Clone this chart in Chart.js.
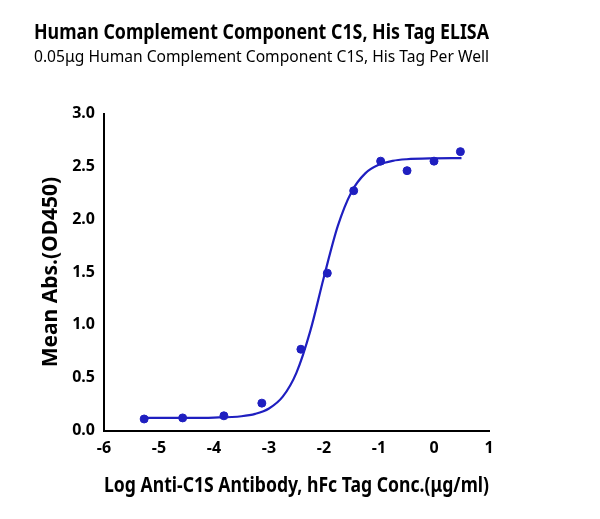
<!DOCTYPE html>
<html><head><meta charset="utf-8">
<script src="https://cdn.jsdelivr.net/npm/chart.js@4.4.0/dist/chart.umd.min.js"></script>
<style>html,body{margin:0;padding:0;background:#fff}#w{width:600px;height:519px}</style>
</head><body><div id="w"><canvas id="c"></canvas></div>
<script>
const pointX=[-5.27,-4.57,-3.82,-3.13,-2.42,-1.94,-1.46,-0.97,-0.49,0.0,0.48];
const pointY=[0.11,0.12,0.14,0.26,0.77,1.49,2.27,2.55,2.46,2.55,2.64];
const curveX=[-5.25,-4.5,-4,-3.5,-3.25,-3,-2.75,-2.5,-2.25,-2,-1.75,-1.5,-1.25,-1,-0.75,-0.5,0,0.5];
const curveY=[0.12,0.12,0.123,0.136,0.158,0.209,0.321,0.549,0.941,1.456,1.935,2.259,2.434,2.516,2.553,2.568,2.577,2.579];
const xTicks=[-6,-5,-4,-3,-2,-1,0,1];
const yTicks=[0,0.5,1,1.5,2,2.5,3];
const F='"Noto Sans", sans-serif';
const blue='#1f1fc0';
new Chart(document.getElementById('c'),{
 data:{datasets:[
  {type:'line',data:curveX.map((x,i)=>({x,y:curveY[i]})),borderColor:blue,borderWidth:2.2,pointRadius:0,cubicInterpolationMode:'monotone'},
  {type:'scatter',data:pointX.map((x,i)=>({x,y:pointY[i]})),backgroundColor:blue,borderColor:blue,pointRadius:4}
 ]},
 options:{responsive:true,maintainAspectRatio:false,animation:false,
  layout:{padding:{left:34,right:111,top:20,bottom:16}},
  plugins:{legend:{display:false},tooltip:{enabled:false},
   title:{display:true,text:'Human Complement Component C1S, His Tag ELISA',color:'#000',font:{family:F,size:21,weight:'bold'},padding:{top:0,bottom:2},align:'center'},
   subtitle:{display:true,text:'0.05μg Human Complement Component C1S, His Tag Per Well',color:'#000',font:{family:F,size:17},padding:{bottom:46}}},
  scales:{
   x:{type:'linear',min:-6,max:1,afterBuildTicks:a=>{a.ticks=xTicks.map(v=>({value:v}))},
    grid:{display:false,drawTicks:true,tickLength:6,tickColor:'#000'},border:{color:'#000',width:2},
    ticks:{color:'#000',font:{family:F,size:16,weight:'bold'},padding:2,maxRotation:0},
    title:{display:true,text:'Log Anti-C1S Antibody, hFc Tag Conc.(μg/ml)',color:'#000',font:{family:F,size:21,weight:'bold'},padding:{top:14}}},
   y:{type:'linear',min:0,max:3,afterBuildTicks:a=>{a.ticks=yTicks.map(v=>({value:v}))},
    grid:{display:false,tickLength:6,tickColor:'#000'},border:{color:'#000',width:2},
    ticks:{color:'#000',font:{family:F,size:16,weight:'bold'},callback:v=>v.toFixed(1),padding:3},
    title:{display:true,text:'Mean Abs.(OD450)',color:'#000',font:{family:F,size:21,weight:'bold'},padding:{bottom:6}}}
  }}
});
</script></body></html>
